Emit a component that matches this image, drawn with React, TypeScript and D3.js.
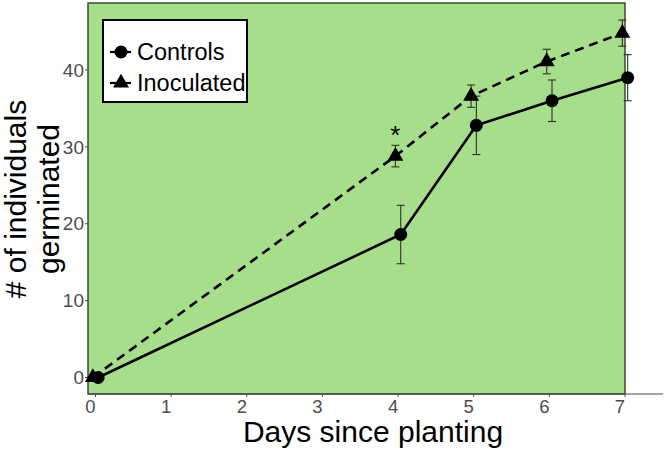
import React from "react";
import * as d3 from "d3";

const days = [0, 4, 5, 6, 7];
const controlsMean = [0, 18.6, 32.8, 36.0, 39.0];
const controlsErr = [0, 3.8, 3.8, 2.7, 3.0];
const inoculatedMean = [0, 28.8, 36.6, 41.1, 44.8];
const inoculatedErr = [0, 1.4, 1.45, 1.6, 1.7];
const xTicks = [0, 1, 2, 3, 4, 5, 6, 7];
const yTicks = [0, 10, 20, 30, 40];
const seriesNames = ["Controls", "Inoculated"];
const starDay = 4;

const W = 666;
const H = 454;
const panel = { left: 88, right: 625, top: 3, bottom: 394 };
const font = "'Liberation Sans', Arial, sans-serif";
const panelFill = "#a7de8b";
const borderColor = "#3b4a35";
const tickColor = "#4d4d4d";

export default function App() {
  const x = d3.scaleLinear().domain([0, 7]).range([95.5, 625]);
  const y = d3.scaleLinear().domain([0, 40]).range([377.5, 70]);
  const dodge = 0.035;

  const ctrl = days.map((d, i) => ({ d, v: controlsMean[i], e: controlsErr[i], xo: d + dodge }));
  const inoc = days.map((d, i) => ({ d, v: inoculatedMean[i], e: inoculatedErr[i], xo: d - dodge }));

  const line = d3
    .line<{ xo: number; v: number }>()
    .x((p) => x(p.xo))
    .y((p) => y(p.v));

  const tri = d3.symbol().type(d3.symbolTriangle).size(110)();
  const triLegend = d3.symbol().type(d3.symbolTriangle).size(110)();

  const errBar = (p: { xo: number; v: number; e: number }, key: string) =>
    p.e > 0 ? (
      <g key={key} stroke="#2a3326" strokeWidth={1.1}>
        <line x1={x(p.xo)} x2={x(p.xo)} y1={y(p.v - p.e)} y2={y(p.v + p.e)} />
        <line x1={x(p.xo) - 4} x2={x(p.xo) + 4} y1={y(p.v - p.e)} y2={y(p.v - p.e)} />
        <line x1={x(p.xo) - 4} x2={x(p.xo) + 4} y1={y(p.v + p.e)} y2={y(p.v + p.e)} />
      </g>
    ) : null;

  const starIdx = days.indexOf(starDay);

  return (
    <svg
      width={W}
      height={H}
      style={{ position: "absolute", left: 0, top: 0, background: "#fff" }}
      fontFamily={font}
    >
      <rect
        x={panel.left}
        y={panel.top}
        width={panel.right - panel.left}
        height={panel.bottom - panel.top}
        fill={panelFill}
        stroke={borderColor}
        strokeWidth={1.5}
      />
      <line x1={panel.left} x2={663} y1={panel.bottom} y2={panel.bottom} stroke={tickColor} strokeWidth={1.2} />

      {yTicks.map((t) => (
        <g key={"y" + t}>
          <line x1={panel.left - 3} x2={panel.left} y1={y(t)} y2={y(t)} stroke={tickColor} strokeWidth={1} />
          <text x={panel.left - 4} y={y(t)} dy="0.35em" textAnchor="end" fontSize={19} fill={tickColor}>
            {t}
          </text>
        </g>
      ))}
      {xTicks.map((t) => (
        <g key={"x" + t}>
          <line x1={x(t)} x2={x(t)} y1={panel.bottom} y2={panel.bottom + 3} stroke={tickColor} strokeWidth={1} />
          <text x={x(t) - 5} y={panel.bottom + 19} textAnchor="middle" fontSize={18.5} fill={tickColor}>
            {t}
          </text>
        </g>
      ))}

      <text x={373} y={442} textAnchor="middle" fontSize={30} fill="#000">
        Days since planting
      </text>
      <g transform="translate(26,199) rotate(-90)">
        <text x={0} y={0} textAnchor="middle" fontSize={30} fill="#000">
          # of individuals
        </text>
        <text x={0} y={33} textAnchor="middle" fontSize={30} fill="#000">
          germinated
        </text>
      </g>

      {ctrl.map((p, i) => errBar(p, "ce" + i))}
      {inoc.map((p, i) => errBar(p, "ie" + i))}

      <path d={line(inoc) || ""} fill="none" stroke="#000" strokeWidth={2.6} strokeDasharray="9,6" />
      <path d={line(ctrl) || ""} fill="none" stroke="#000" strokeWidth={2.6} />

      {inoc.map((p, i) => (
        <path key={"it" + i} d={tri || ""} transform={`translate(${x(p.xo)},${y(p.v)})`} fill="#000" />
      ))}
      {ctrl.map((p, i) => (
        <circle key={"cc" + i} cx={x(p.xo)} cy={y(p.v)} r={6.5} fill="#000" />
      ))}

      <text
        x={x(inoc[starIdx].xo)}
        y={y(inoc[starIdx].v + inoc[starIdx].e) - 1}
        textAnchor="middle"
        fontSize={26}
        fill="#000"
      >
        *
      </text>

      <g transform="translate(103,20)">
        <rect x={0} y={0} width={144} height={82} fill="#fff" stroke="#000" strokeWidth={2} />
        {seriesNames.map((s, i) => (
          <g key={s} transform={`translate(0,${32 + i * 31})`}>
            <line x1={7} x2={28} y1={0} y2={0} stroke="#000" strokeWidth={2.2} />
            {i === 0 ? (
              <circle cx={18} cy={0} r={6.5} fill="#000" />
            ) : (
              <path d={triLegend || ""} transform="translate(18,0)" fill="#000" />
            )}
            <text x={34} y={0} dy="0.36em" fontSize={23.5} fill="#000">
              {s}
            </text>
          </g>
        ))}
      </g>
    </svg>
  );
}
